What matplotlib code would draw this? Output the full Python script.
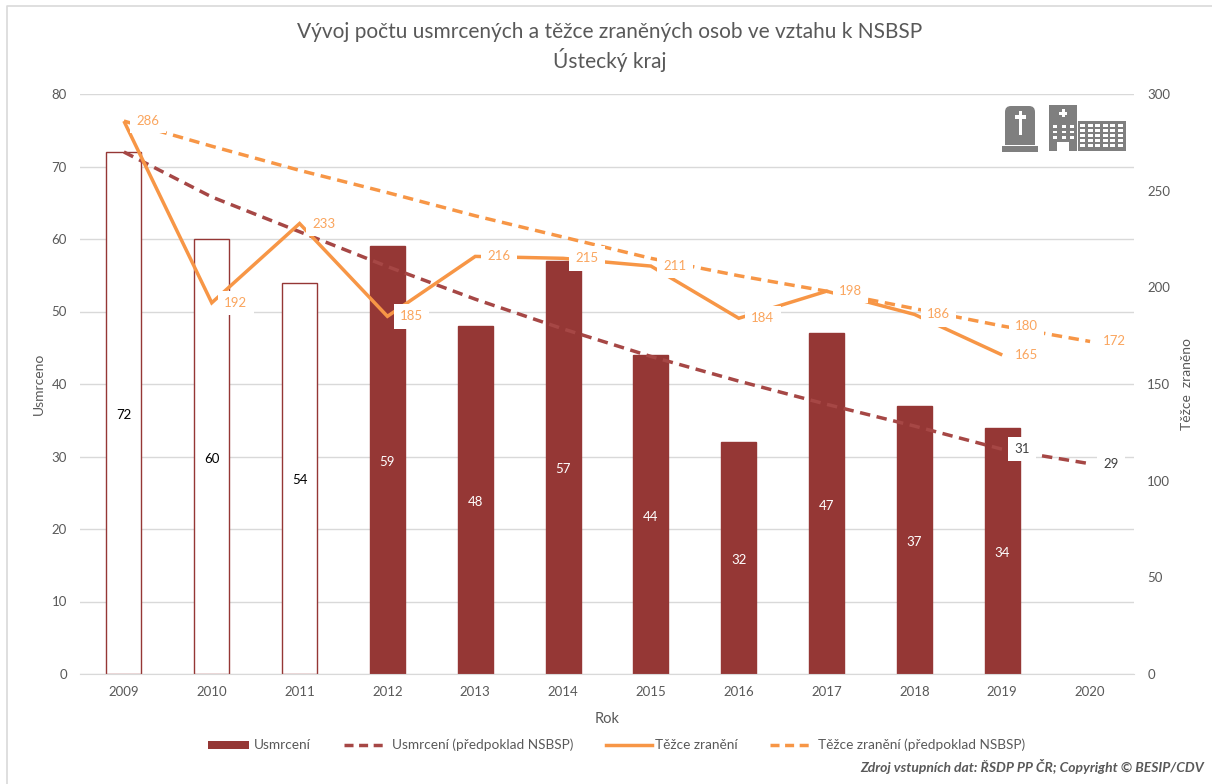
import matplotlib as mpl

mpl.use("Agg")
import matplotlib.pyplot as plt
from matplotlib.patches import Rectangle, FancyBboxPatch

YEARS = ["2009", "2010", "2011", "2012", "2013", "2014", "2015", "2016", "2017", "2018", "2019", "2020"]
KILLED = [72, 60, 54, 59, 48, 57, 44, 32, 47, 37, 34]
KILLED_PLAN = [72, 65.8, 61, 56.2, 51.7, 47.6, 43.8, 40.4, 37.2, 34.2, 31, 29]
INJURED = [286, 192, 233, 185, 216, 215, 211, 184, 198, 186, 165]
INJURED_PLAN = [286, 273, 260.5, 249, 237, 226, 215, 206, 198, 189, 180, 172]

RED = "#953735"
RED_LINE = "#A64745"
ORANGE = "#F79646"
LABEL_ORANGE = "#FAA55E"
GREY = "#595959"
ICON = "#7F7F7F"
BORDER = "#D9D9D9"
W, H = 1212, 784
DASH = (0, (3.0, 1.9))
LW = 2.5

plt.rcParams["font.family"] = ["Lato", "DejaVu Sans"]

fig = plt.figure(figsize=(W / 100, H / 100), dpi=100)
ax = fig.add_axes([80 / W, 1 - 674 / H, 1054 / W, 580 / H])
ax2 = ax.twinx()
ax.set_zorder(1)
ax2.set_zorder(2)
ax.patch.set_visible(False)
ax2.patch.set_visible(False)

x = list(range(len(YEARS)))
for i, v in enumerate(KILLED):
    hollow = i < 3
    ax.bar(i, v, width=0.4, facecolor="white" if hollow else RED, edgecolor=RED, linewidth=1, zorder=2)
    ax.annotate(str(v), (i, v / 2), xytext=(0, -1.5), textcoords="offset points", ha="center", va="center",
                fontsize=9.5, color="black" if hollow else "white", zorder=3)

ax.set_xlim(-0.5, 11.5)
ax.set_ylim(0, 80)
ax.set_yticks(range(0, 81, 10))
ax.set_xticks(x, YEARS)
ax.grid(axis="y", color=BORDER, linewidth=1)
ax.set_axisbelow(True)
ax.tick_params(length=0, labelsize=9.5, labelcolor=GREY, pad=9)
ax.tick_params(axis="y", pad=9.5)
for s in ["top", "left", "right"]:
    ax.spines[s].set_visible(False)
ax.spines["bottom"].set_color(BORDER)
ax.set_xlabel("Rok", fontsize=10.5, color=GREY, labelpad=10)
ax.set_ylabel("Usmrceno", fontsize=10, color=GREY, labelpad=5)

ax2.set_ylim(0, 300)
ax2.set_yticks(range(0, 301, 50))
ax2.tick_params(length=0, labelsize=9.5, labelcolor=GREY, pad=9.5)
for s in ax2.spines.values():
    s.set_visible(False)
ax2.set_ylabel("Těžce  zraněno", fontsize=10, color=GREY, labelpad=8)

ax.plot(x, KILLED_PLAN, color=RED_LINE, linestyle=DASH, linewidth=LW, zorder=4)
ax2.plot(x, INJURED_PLAN, color=ORANGE, linestyle=DASH, linewidth=LW, zorder=3)
ax2.plot(x[:11], INJURED, color=ORANGE, linewidth=LW, solid_capstyle="butt", solid_joinstyle="miter", zorder=4)


def label(axis, i, v, text, dx, color):
    # offset measured in picture pixels from the data point
    axis.annotate(text, (i, v), xytext=(dx * 0.72, 0), textcoords="offset points",
                  ha="center", va="center", fontsize=9.5, color=color, zorder=6,
                  bbox=dict(facecolor="white", edgecolor="none", pad=4.5))


for i, v in enumerate(INJURED):
    label(ax2, i, v, str(v), 24, LABEL_ORANGE)
label(ax2, 10, INJURED_PLAN[10], str(INJURED_PLAN[10]), 24, LABEL_ORANGE)
label(ax2, 11, INJURED_PLAN[11], str(INJURED_PLAN[11]), 24, LABEL_ORANGE)
label(ax2, 10, 31 * 300 / 80, "31", 20, "#404040")
label(ax2, 11, 29 * 300 / 80, "29", 21, "#404040")

fig.text(610 / W, 1 - 32 / H, "Vývoj počtu usmrcených a těžce zraněných osob ve vztahu k NSBSP",
         ha="center", va="center", fontsize=15, color=GREY)
fig.text(610 / W, 1 - 60 / H, "Ústecký kraj", ha="center", va="center", fontsize=15, color=GREY)
fig.text(1204 / W, 1 - 767 / H, "Zdroj vstupních dat: ŘSDP PP ČR; Copyright © BESIP/CDV",
         ha="right", va="center", fontsize=10, color=GREY, style="italic", weight="bold")

# overlay in picture pixels for frame, legend and icons
ov = fig.add_axes([0, 0, 1, 1], zorder=10)
ov.set_xlim(0, W)
ov.set_ylim(H, 0)
ov.axis("off")
ov.plot([6.5, 6.5, W], [H, 5.5, 5.5], color=BORDER, linewidth=1.2)

leg_y = 745
ov.add_patch(Rectangle((208, leg_y - 4), 41, 8, facecolor=RED, edgecolor="none"))
ov.text(254, leg_y, "Usmrcení", va="center", fontsize=9.8, color=GREY)
ov.plot([344, 386], [leg_y, leg_y], color=RED_LINE, linewidth=LW, linestyle=(0, (2.6, 1.6)))
ov.text(392, leg_y, "Usmrcení (předpoklad NSBSP)", va="center", fontsize=9.8, color=GREY)
ov.plot([606, 652], [leg_y, leg_y], color=ORANGE, linewidth=LW)
ov.text(655, leg_y, "Těžce zranění", va="center", fontsize=9.8, color=GREY)
ov.plot([770, 811], [leg_y, leg_y], color=ORANGE, linewidth=LW, linestyle=(0, (2.6, 1.6)))
ov.text(818, leg_y, "Těžce zranění (předpoklad NSBSP)", va="center", fontsize=9.8, color=GREY)

# tombstone icon
ov.add_patch(Rectangle((1002, 146), 36, 6, facecolor=ICON, edgecolor="none"))
ov.add_patch(FancyBboxPatch((1011, 112), 18, 27, boxstyle="round,pad=6", facecolor=ICON, edgecolor="none"))
ov.add_patch(Rectangle((1005, 125), 30, 20, facecolor=ICON, edgecolor="none"))
ov.add_patch(Rectangle((1019, 111), 3, 24, facecolor="white", edgecolor="none"))
ov.add_patch(Rectangle((1015, 115), 11, 3.5, facecolor="white", edgecolor="none"))

# hospital icon
ov.add_patch(Rectangle((1049, 105), 28, 46, facecolor=ICON, edgecolor="none"))
ov.add_patch(Rectangle((1078, 121), 48, 30, facecolor=ICON, edgecolor="none"))
ov.add_patch(Rectangle((1057, 142), 12, 9, facecolor="white", edgecolor="none"))
ov.add_patch(Rectangle((1062, 109), 3, 8, facecolor="white", edgecolor="none"))
ov.add_patch(Rectangle((1059, 111.5), 8, 3, facecolor="white", edgecolor="none"))
for wx in [1052.5, 1061.5, 1069.5]:
    for wy in [125, 130.5, 136]:
        ov.add_patch(Rectangle((wx, wy), 4, 2.6, facecolor="white", edgecolor="none"))
for wx in [1080, 1087.5, 1095, 1102.5, 1110, 1118]:
    for wy in [124, 129, 134, 139, 144]:
        ov.add_patch(Rectangle((wx, wy), 5, 2.6, facecolor="white", edgecolor="none"))

fig.savefig("out.png", dpi=100)
